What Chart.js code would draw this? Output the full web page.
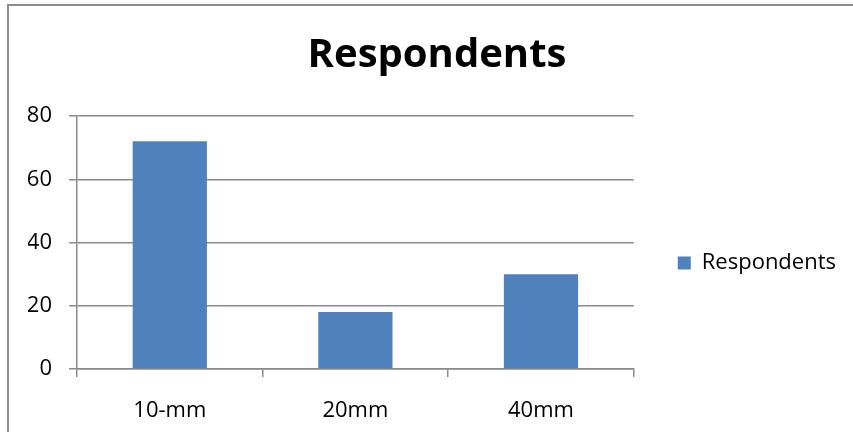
<!DOCTYPE html>
<html lang="en">
<head>
    <meta charset="UTF-8">
    <title>Respondents</title>
    <script src="https://cdn.jsdelivr.net/npm/chart.js"></script>
    <style>
        html, body {
            margin: 0;
            padding: 0;
            background: #fff;
        }
        .wrapper {
            position: relative;
            width: 853px;
            height: 432px;
            overflow: hidden;
        }
        /* chart frame: only the left and top edges show */
        .frame {
            position: absolute;
            left: 7px;
            top: 4px;
            width: 900px;
            height: 500px;
            border-left: 2px solid #8c8c8c;
            border-top: 2px solid #8c8c8c;
            pointer-events: none;
        }
        canvas {
            position: absolute;
            left: 0;
            top: 0;
        }
    </style>
</head>
<body>
    <div class="wrapper">
        <canvas id="respondentsChart" width="853" height="432"></canvas>
        <div class="frame"></div>
    </div>

    <script>
        const categories = ['10-mm', '20mm', '40mm'];
        const respondents = [72, 18, 30];
        const yTicks = [0, 20, 40, 60, 80];

        const gridColor = '#8a8a8a';
        const fontFamily = '"Open Sans", "Noto Sans", sans-serif';

        const ctx = document.getElementById('respondentsChart').getContext('2d');
        const respondentsChart = new Chart(ctx, {
            type: 'bar',
            data: {
                labels: categories,
                datasets: [{
                    label: 'Respondents',
                    data: respondents,
                    backgroundColor: '#4f81bd',
                    borderWidth: 0,
                    barPercentage: 0.4,
                    categoryPercentage: 1.0
                }]
            },
            options: {
                responsive: false,
                animation: false,
                layout: {
                    padding: { left: 28, right: 7, top: 10, bottom: 0 }
                },
                scales: {
                    y: {
                        min: yTicks[0],
                        max: yTicks[yTicks.length - 1],
                        afterBuildTicks: scale => {
                            scale.ticks = yTicks.map(v => ({ value: v }));
                        },
                        afterFit: scale => {
                            scale.width = 49;
                        },
                        grid: {
                            color: gridColor,
                            lineWidth: 1.5,
                            tickLength: 8
                        },
                        border: {
                            color: gridColor,
                            width: 1.5
                        },
                        ticks: {
                            color: '#000',
                            padding: 17,
                            font: { family: fontFamily, size: 22 }
                        }
                    },
                    x: {
                        afterFit: scale => {
                            scale.height = 63;
                        },
                        grid: {
                            offset: true,
                            drawOnChartArea: false,
                            color: gridColor,
                            lineWidth: 1.5,
                            tickLength: 8
                        },
                        border: {
                            color: gridColor,
                            width: 1.5
                        },
                        ticks: {
                            color: '#000',
                            padding: 21,
                            font: { family: fontFamily, size: 22 }
                        }
                    }
                },
                plugins: {
                    title: {
                        display: true,
                        text: 'Respondents',
                        color: '#000',
                        padding: { top: 22, bottom: 36 },
                        font: { family: fontFamily, size: 40, weight: 'bold' }
                    },
                    legend: {
                        position: 'right',
                        maxWidth: 240,
                        // empty title pushes the single entry down beside the bars
                        title: {
                            display: true,
                            text: '',
                            padding: 0,
                            font: { family: fontFamily, size: 70, lineHeight: 1.2 }
                        },
                        labels: {
                            color: '#000',
                            boxWidth: 13,
                            boxHeight: 13,
                            padding: 44,
                            font: { family: fontFamily, size: 22 }
                        }
                    },
                    tooltip: { enabled: false }
                }
            }
        });
    </script>
</body>
</html>
